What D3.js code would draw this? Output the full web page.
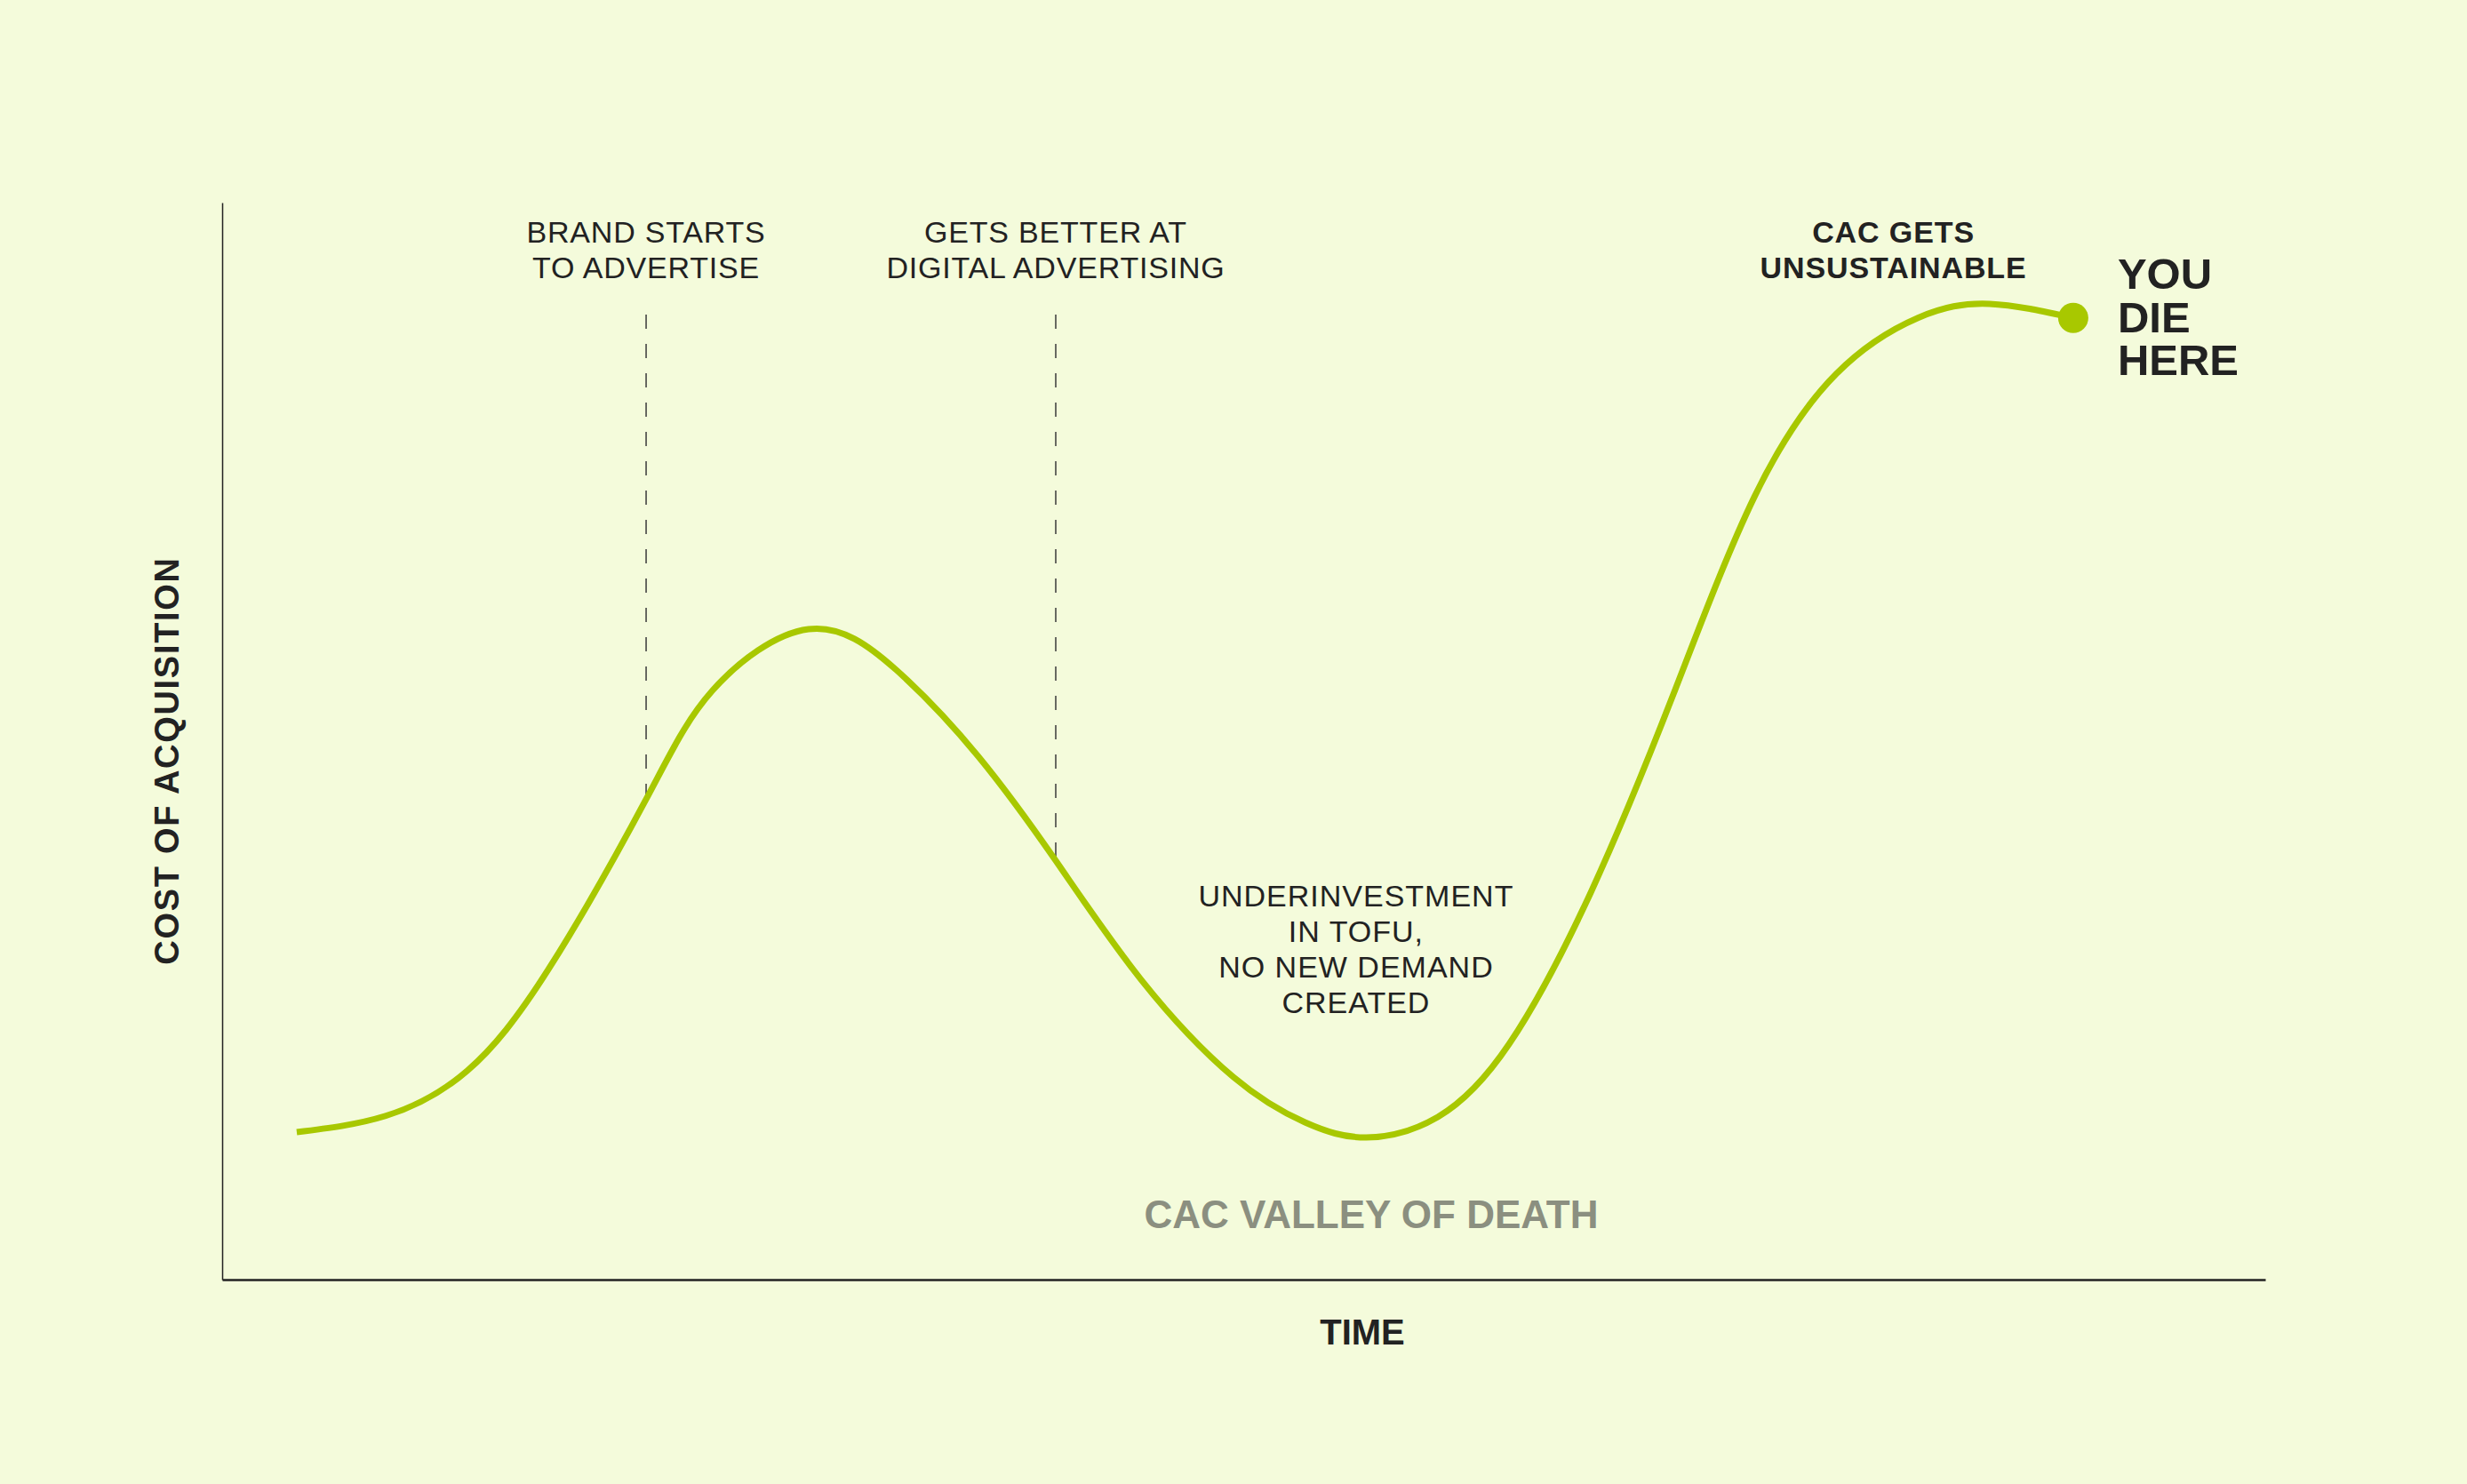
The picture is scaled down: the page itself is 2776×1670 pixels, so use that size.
<!DOCTYPE html>
<html>
<head>
<meta charset="utf-8">
<script src="https://cdn.jsdelivr.net/npm/d3@7"></script>
<style>
  html, body { margin: 0; padding: 0; background: #f4fbdb; }
  svg { display: block; }
  text { font-family: "Liberation Sans", Arial, Helvetica, sans-serif; fill: #222; }
</style>
</head>
<body>
<svg id="chart"></svg>
<script>
  // curve, time and cost both on a 0-100 scale
  var time = [3.65, 8, 12, 16, 20.75, 24, 28.7, 33, 37, 40.8, 45, 49.5, 53, 56,
              59.5, 63, 67, 71, 75, 79, 83, 86.5, 90.6];
  var cost = [13.7, 15.2, 19.4, 28.9, 44.6, 54.7, 60.4, 56.6, 48.6, 38.9, 27.8, 18.8, 14.6, 13.2,
              15.1, 21.9, 36.0, 54.2, 72.7, 84.1, 89.3, 90.6, 89.3];

  // dashed milestones along the time axis
  var eventTimes = [20.75, 40.8];
  var eventLabels = [['BRAND STARTS', 'TO ADVERTISE'], ['GETS BETTER AT', 'DIGITAL ADVERTISING']];

  var peakTime = 81.8;
  var peakLabel = ['CAC GETS', 'UNSUSTAINABLE'];

  var valleyTime = 55.5;
  var valleyNote = ['UNDERINVESTMENT', 'IN TOFU,', 'NO NEW DEMAND', 'CREATED'];
  var valleyTitle = 'CAC VALLEY OF DEATH';
  var endLabel = ['YOU', 'DIE', 'HERE'];

  var W = 2776, H = 1670;
  var margin = { left: 250, right: 227, top: 228, bottom: 230 };
  var green = '#a8c800';

  var svg = d3.select('#chart').attr('width', W).attr('height', H);

  var x = d3.scaleLinear().domain([0, 100]).range([margin.left, W - margin.right]);
  var y = d3.scaleLinear().domain([0, 100]).range([H - margin.bottom, margin.top]);

  var points = time.map(function(t, i) { return [t, cost[i]]; });
  var costAt = d3.scaleLinear().domain(time).range(cost);

  // axes: just the two lines, no ticks
  svg.append('g')
    .attr('transform', 'translate(' + margin.left + ',0)')
    .call(d3.axisLeft(y).tickValues([]).tickSizeOuter(0))
    .select('.domain').attr('stroke', '#222').attr('stroke-width', 1.5);

  svg.append('g')
    .attr('transform', 'translate(0,' + (H - margin.bottom) + ')')
    .call(d3.axisBottom(x).tickValues([]).tickSizeOuter(0))
    .select('.domain').attr('stroke', '#222').attr('stroke-width', 2.5);

  // milestone dashes + labels
  eventTimes.forEach(function(t, i) {
    svg.append('line')
      .attr('x1', x(t)).attr('x2', x(t))
      .attr('y1', 354).attr('y2', y(costAt(t)))
      .attr('stroke', '#3a3a3a').attr('stroke-width', 1.5)
      .attr('stroke-dasharray', '16,17');

    var lbl = svg.append('text')
      .attr('text-anchor', 'middle')
      .style('font-size', '34px').style('letter-spacing', '0.8px');
    eventLabels[i].forEach(function(line, k) {
      lbl.append('tspan').attr('x', x(t)).attr('y', 273 + k * 40).text(line);
    });
  });

  var peak = svg.append('text')
    .attr('text-anchor', 'middle')
    .style('font-size', '34px').style('font-weight', 'bold').style('letter-spacing', '0.9px');
  peakLabel.forEach(function(line, k) {
    peak.append('tspan').attr('x', x(peakTime)).attr('y', 273 + k * 40).text(line);
  });

  var note = svg.append('text')
    .attr('text-anchor', 'middle')
    .style('font-size', '34px').style('letter-spacing', '1px');
  valleyNote.forEach(function(line, k) {
    note.append('tspan').attr('x', x(valleyTime)).attr('y', 1020 + k * 40).text(line);
  });

  svg.append('text')
    .attr('x', 1543).attr('y', 1382)
    .attr('text-anchor', 'middle')
    .style('font-size', '44px').style('font-weight', 'bold').style('fill', '#8b8f80')
    .text(valleyTitle);

  // the curve
  svg.append('path')
    .datum(points)
    .attr('fill', 'none')
    .attr('stroke', green)
    .attr('stroke-width', 7)
    .attr('d', d3.line()
      .x(function(d) { return x(d[0]); })
      .y(function(d) { return y(d[1]); })
      .curve(d3.curveNatural));

  var last = points[points.length - 1];
  svg.append('circle')
    .attr('cx', x(last[0])).attr('cy', y(last[1]))
    .attr('r', 17).attr('fill', green);

  var die = svg.append('text')
    .style('font-size', '49px').style('font-weight', 'bold');
  endLabel.forEach(function(line, k) {
    die.append('tspan').attr('x', x(last[0]) + 50).attr('y', 325 + k * 48.5).text(line);
  });

  // axis titles
  svg.append('text')
    .attr('x', 1533).attr('y', 1513)
    .attr('text-anchor', 'middle')
    .style('font-size', '40px').style('font-weight', 'bold')
    .text('TIME');

  svg.append('text')
    .attr('transform', 'translate(201,856) rotate(-90)')
    .attr('text-anchor', 'middle')
    .style('font-size', '38px').style('font-weight', 'bold').style('letter-spacing', '1.7px')
    .text('COST OF ACQUISITION');
</script>
</body>
</html>
